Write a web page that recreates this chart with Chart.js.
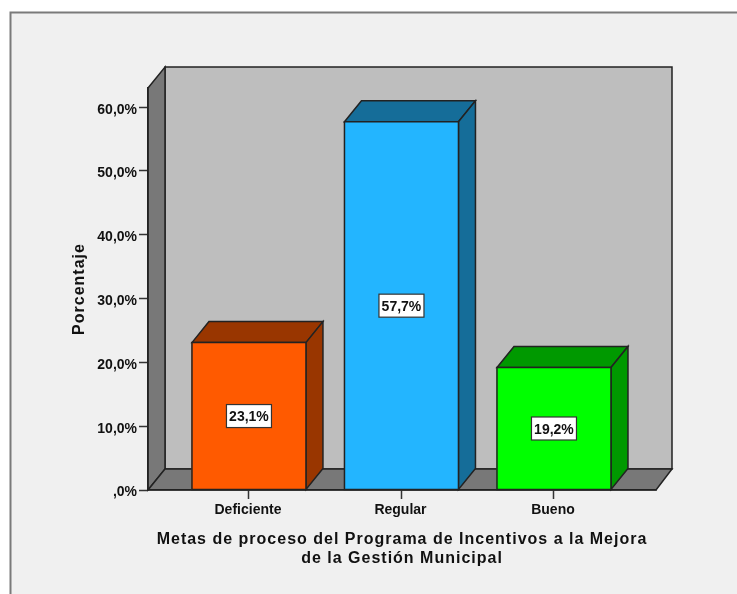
<!DOCTYPE html>
<html><head><meta charset="utf-8">
<style>html,body{margin:0;padding:0;background:#fff}canvas{display:block}</style>
<script src="https://cdn.jsdelivr.net/npm/chart.js@4"></script></head>
<body><canvas id="c" width="737" height="594"></canvas>
<script>
const categories = ['Deficiente','Regular','Bueno'];
const values = [23.1,57.7,19.2];
const valueLabels = ['23,1%','57,7%','19,2%'];
const frontColors = ['#ff5a00','#23b5ff','#00ff00'];
const sideColors = ['#993600','#156d99','#009900'];
const yTickValues = [0,10,20,30,40,50,60];
const yTickLabels = [',0%','10,0%','20,0%','30,0%','40,0%','50,0%','60,0%'];
const xTitleLines = ['Metas de proceso del Programa de Incentivos a la Mejora','de la Gestión Municipal'];
const yTitle = 'Porcentaje';

const DX = 17, DY = 21, INK = '#222';
const FONT = 'Liberation Sans, Arial, sans-serif';

function poly(ctx, pts, fill, lw){
  ctx.beginPath();
  pts.forEach((p,i)=> i ? ctx.lineTo(p[0],p[1]) : ctx.moveTo(p[0],p[1]));
  ctx.closePath();
  ctx.fillStyle = fill; ctx.fill();
  ctx.lineWidth = lw || 1.5; ctx.strokeStyle = INK; ctx.lineJoin='miter'; ctx.stroke();
}
function spaced(scale, px){
  const orig = scale.drawTitle;
  scale.drawTitle = function(){
    const ctx = this.ctx; ctx.save(); ctx.letterSpacing = px; orig.apply(this, arguments); ctx.restore();
  };
}
const scene = {
  id:'scene',
  beforeDraw(chart){
    const {ctx, chartArea:a} = chart;
    ctx.save();
    ctx.fillStyle='#fff'; ctx.fillRect(0,0,737,594);
    ctx.fillStyle='#f0f0f0'; ctx.fillRect(10,12,760,620);
    ctx.strokeStyle='#7a7a7a'; ctx.lineWidth=2; ctx.strokeRect(10.5,12.5,760,620);
    const L=a.left,R=a.right,T=a.top,B=a.bottom;
    poly(ctx,[[L+DX,T-DY],[R+DX-1,T-DY],[R+DX-1,B-DY],[L+DX,B-DY]],'#bebebe');
    poly(ctx,[[L,T],[L+DX,T-DY],[L+DX,B-DY],[L,B]],'#787878');
    poly(ctx,[[L,B],[L+DX,B-DY],[R+DX-1,B-DY],[R,B]],'#787878');
    ctx.restore();
    if(!chart.$sp){ spaced(chart.scales.x,'1px'); spaced(chart.scales.y,'1px'); chart.$sp=true; }
  },
  afterDatasetsDraw(chart){
    const {ctx} = chart;
    ctx.save();
    chart.getDatasetMeta(0).data.forEach((b,i)=>{
      const l=b.x-b.width/2, r=b.x+b.width/2, t=b.y, bt=b.base;
      poly(ctx,[[l,t],[l+DX,t-DY],[r+DX,t-DY],[r,t]],sideColors[i]);
      poly(ctx,[[r,t],[r+DX,t-DY],[r+DX,bt-DY],[r,bt]],sideColors[i]);
      poly(ctx,[[l,t],[r,t],[r,bt],[l,bt]],frontColors[i]);
      const my=(t+bt)/2, w=45, h=23;
      ctx.fillStyle='#fff'; ctx.strokeStyle='#333'; ctx.lineWidth=1.2;
      ctx.fillRect(b.x-w/2,my-h/2,w,h); ctx.strokeRect(b.x-w/2,my-h/2,w,h);
      ctx.fillStyle='#111'; ctx.font='bold 14px '+FONT; ctx.textAlign='center'; ctx.textBaseline='middle';
      ctx.fillText(valueLabels[i],b.x,my+1.5);
    });
    ctx.restore();
  }
};
new Chart(document.getElementById('c'),{
  type:'bar',
  plugins:[scene],
  data:{datasets:[{
    data:categories.map((c,i)=>({x:i,y:values[i]})),
    backgroundColor:frontColors, borderWidth:0, barThickness:114
  }]},
  options:{
    responsive:false, animation:false, devicePixelRatio:1,
    layout:{padding:{left:70,top:88,right:81,bottom:26}},
    plugins:{legend:{display:false},tooltip:{enabled:false}},
    scales:{
      x:{type:'linear',min:-0.662,max:2.669,offset:false,
        afterBuildTicks(s){s.ticks=categories.map((c,i)=>({value:i}));},
        afterFit(s){s.height=78;},
        grid:{offset:false,drawOnChartArea:false,drawTicks:true,tickLength:9,tickColor:'#333',tickWidth:1.5},
        border:{display:true,color:INK,width:1.5},
        ticks:{autoSkip:false,maxRotation:0,padding:3,labelOffset:-1,color:'#111',font:{family:FONT,size:14,weight:'bold'},
          callback:v=>categories[v]},
        title:{display:true,text:xTitleLines,color:'#111',padding:0,font:{family:FONT,size:16,weight:'bold',lineHeight:1.2}}
      },
      y:{min:0,max:63,
        afterBuildTicks(s){s.ticks=yTickValues.map(v=>({value:v}));},
        afterFit(s){s.width=78;},
        grid:{drawOnChartArea:false,drawTicks:true,tickLength:9,tickColor:'#333',tickWidth:1.5},
        border:{display:true,color:INK,width:1.5},
        ticks:{autoSkip:false,padding:2,labelOffset:2.5,color:'#111',font:{family:FONT,size:14,weight:'bold'},
          callback:v=>yTickLabels[yTickValues.indexOf(v)]},
        title:{display:true,text:yTitle,color:'#111',padding:0,font:{family:FONT,size:16,weight:'bold'}}
      }
    }
  }
});
</script></body></html>
